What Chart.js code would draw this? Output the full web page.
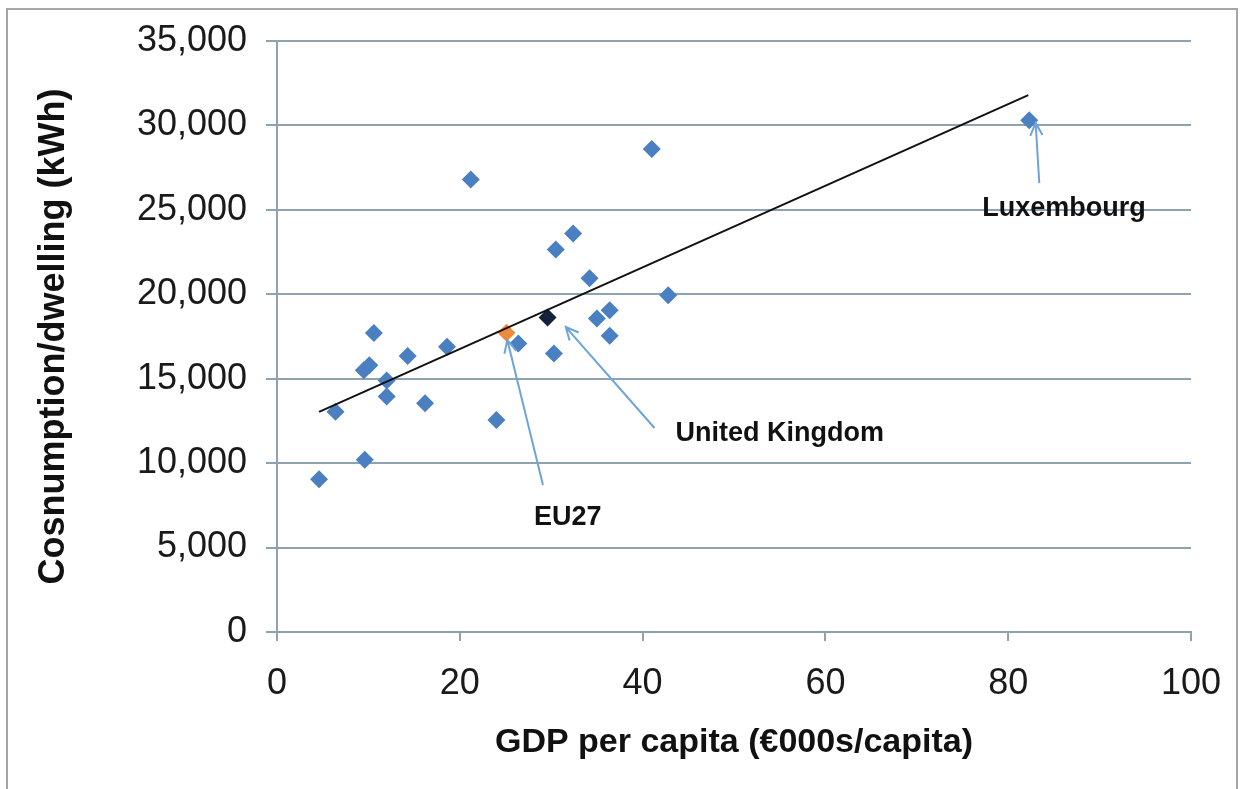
<!DOCTYPE html>
<html lang="en">
<head>
  <meta charset="UTF-8">
  <title>Consumption per dwelling vs GDP per capita</title>
  <style>
    * { margin: 0; padding: 0; box-sizing: border-box; }
    body { background: #ffffff; width: 1244px; height: 789px; overflow: hidden; }
    #chart { display: block; }
  </style>
</head>
<body>
  <canvas id="chart" width="1244" height="789"></canvas>

  <script src="https://cdn.jsdelivr.net/npm/chart.js"></script>
  <script>
    // Countries (GDP per capita in €000s, consumption per dwelling in kWh)
    const gdp = [4.6, 6.4, 9.6, 9.5, 10.1, 10.6, 12.0, 12.0, 14.3, 16.2, 18.6, 21.2,
                 24.0, 26.4, 30.3, 30.5, 32.4, 34.2, 35.0, 36.4, 36.4, 41.0, 42.8, 82.3];
    const consumption = [9050, 13050, 10200, 15500, 15800, 17700, 14900, 13950, 16350, 13550, 16900, 26800,
                         12550, 17090, 16500, 22650, 23600, 20950, 18570, 19050, 17540, 28600, 19950, 30300];

    // highlighted points
    const ukGdp = [29.6];
    const ukConsumption = [18630];
    const euGdp = [25.1];
    const euConsumption = [17720];

    // linear trend line end points
    const trendGdp = [4.6, 82.2];
    const trendConsumption = [13040, 31790];

    // axis ticks
    const xTicks = [0, 20, 40, 60, 80, 100];
    const yTicks = [0, 5000, 10000, 15000, 20000, 25000, 30000, 35000];

    // callouts: label, label position, arrow tail, arrow tip (data units)
    const notes = [
      { text: 'Luxembourg',     at: [86.1, 25100], from: [83.4, 26580], to: [83.0, 30150] },
      { text: 'United Kingdom', at: [55.0, 11780], from: [41.3, 12080], to: [31.6, 18060] },
      { text: 'EU27',           at: [31.8, 6800],  from: [29.1, 8700],  to: [25.2, 17290] }
    ];

    const toPoints = (xs, ys) => xs.map((x, i) => ({ x: x, y: ys[i] }));
    const gridColor = '#8fa2b0';
    const fontFamily = '"Liberation Sans", Arial, sans-serif';

    // frame + callout arrows/labels
    const decor = {
      id: 'decor',
      beforeDraw(chart) {
        const c = chart.ctx;
        c.save();
        c.fillStyle = '#ffffff';
        c.fillRect(0, 0, chart.width, chart.height);
        c.strokeStyle = '#a6a6a6';
        c.lineWidth = 2;
        c.strokeRect(7, 9, 1230, 800);
        c.restore();
      },
      afterDatasetsDraw(chart) {
        const c = chart.ctx;
        const xs = chart.scales.x, ys = chart.scales.y;
        c.save();
        notes.forEach(n => {
          const x1 = xs.getPixelForValue(n.from[0]), y1 = ys.getPixelForValue(n.from[1]);
          const x2 = xs.getPixelForValue(n.to[0]),   y2 = ys.getPixelForValue(n.to[1]);
          c.strokeStyle = '#6ea3dc';
          c.lineWidth = 2;
          c.beginPath();
          c.moveTo(x1, y1);
          c.lineTo(x2, y2);
          const a = Math.atan2(y2 - y1, x2 - x1);
          const h = 14;
          c.moveTo(x2 - h * Math.cos(a - 0.45), y2 - h * Math.sin(a - 0.45));
          c.lineTo(x2, y2);
          c.lineTo(x2 - h * Math.cos(a + 0.45), y2 - h * Math.sin(a + 0.45));
          c.stroke();

          c.fillStyle = '#111111';
          c.font = 'bold 27px ' + fontFamily;
          c.textAlign = 'center';
          c.textBaseline = 'middle';
          c.fillText(n.text, xs.getPixelForValue(n.at[0]), ys.getPixelForValue(n.at[1]));
        });
        c.restore();
      }
    };

    new Chart(document.getElementById('chart').getContext('2d'), {
      type: 'scatter',
      data: {
        datasets: [
          {
            label: 'Trend',
            data: toPoints(trendGdp, trendConsumption),
            showLine: true,
            borderColor: '#111111',
            borderWidth: 2,
            pointRadius: 0,
            order: 0
          },
          {
            label: 'United Kingdom',
            data: toPoints(ukGdp, ukConsumption),
            pointStyle: 'rectRot',
            pointRadius: 9,
            backgroundColor: '#13213a',
            borderColor: '#13213a',
            borderWidth: 0,
            order: 1
          },
          {
            label: 'EU27',
            data: toPoints(euGdp, euConsumption),
            pointStyle: 'rectRot',
            pointRadius: 9,
            backgroundColor: '#ee8a3a',
            borderColor: '#ee8a3a',
            borderWidth: 0,
            order: 1
          },
          {
            label: 'Countries',
            data: toPoints(gdp, consumption),
            pointStyle: 'rectRot',
            pointRadius: 9,
            backgroundColor: '#4a7fc1',
            borderColor: '#4a7fc1',
            borderWidth: 0,
            order: 2
          }
        ]
      },
      options: {
        responsive: false,
        animation: false,
        layout: { padding: { left: 0, right: 53, top: 41, bottom: 0 } },
        plugins: {
          legend: { display: false },
          tooltip: { enabled: false }
        },
        scales: {
          x: {
            type: 'linear',
            min: 0,
            max: 100,
            afterFit: s => { s.height = 157; },
            afterBuildTicks: s => { s.ticks = xTicks.map(v => ({ value: v })); },
            grid: { drawOnChartArea: false, color: gridColor, tickLength: 9, lineWidth: 2 },
            border: { color: gridColor, width: 2 },
            ticks: {
              color: '#1a1a1a',
              padding: 21,
              font: { family: fontFamily, size: 36 }
            },
            title: {
              display: true,
              text: 'GDP per capita (€000s/capita)',
              color: '#111111',
              padding: { top: 0, bottom: 26 },
              font: { family: fontFamily, size: 34, weight: 'bold' }
            }
          },
          y: {
            type: 'linear',
            min: 0,
            max: 35000,
            afterFit: s => { s.width = 277; },
            afterBuildTicks: s => { s.ticks = yTicks.map(v => ({ value: v })); },
            grid: { color: gridColor, tickLength: 11, lineWidth: 2 },
            border: { color: gridColor, width: 2 },
            ticks: {
              color: '#1a1a1a',
              padding: 19,
              font: { family: fontFamily, size: 36 },
              callback: v => v.toLocaleString('en-US')
            },
            title: {
              display: true,
              text: 'Cosnumption/dwelling (kWh)',
              color: '#111111',
              padding: { top: 32, bottom: 0 },
              font: { family: fontFamily, size: 36, weight: 'bold' }
            }
          }
        }
      },
      plugins: [decor]
    });
  </script>
</body>
</html>
